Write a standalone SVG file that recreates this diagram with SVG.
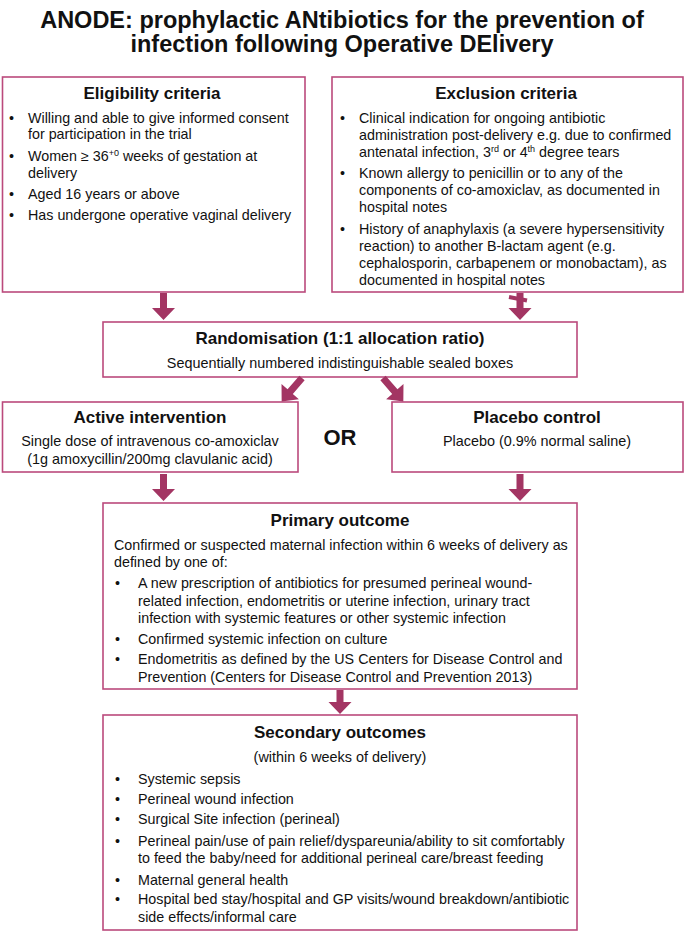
<svg xmlns="http://www.w3.org/2000/svg" width="685" height="932" viewBox="0 0 685 932">
<style>
.box{fill:#ffffff;stroke:#bb4a7c;stroke-width:1.6}
.arrow{fill:#a33563;stroke:none}
.bar{stroke:#a33563;stroke-width:4;fill:none}
text{font-family:"Liberation Sans",Arial,sans-serif;fill:#111111}
.ttl{font-size:23.5px;font-weight:bold;text-anchor:middle}
.hd{font-size:17px;font-weight:bold;text-anchor:middle}
.t{font-size:14.3px}
.c{font-size:14.4px;text-anchor:middle}
.or{font-size:22px;font-weight:bold;text-anchor:middle}
</style>
<rect width="685" height="932" fill="#ffffff"/>
<g id="title">
<text class="ttl" x="342" y="28">ANODE: prophylactic ANtibiotics for the prevention of</text>
<text class="ttl" x="342" y="52">infection following Operative DElivery</text>
</g>
<g id="eligibility">
<rect class="box" x="2.5" y="77" width="302.5" height="215"/>
<text class="hd" x="152" y="99">Eligibility criteria</text>
<text class="t" x="9" y="123">•</text>
<text class="t" x="28" y="123">Willing and able to give informed consent</text>
<text class="t" x="28" y="139">for participation in the trial</text>
<text class="t" x="9" y="161">•</text>
<text class="t" x="28" y="161">Women ≥ 36<tspan font-size="9" dy="-5">+0</tspan><tspan dy="5"> weeks of gestation at</tspan></text>
<text class="t" x="28" y="178">delivery</text>
<text class="t" x="9" y="199">•</text>
<text class="t" x="28" y="199">Aged 16 years or above</text>
<text class="t" x="9" y="220">•</text>
<text class="t" x="28" y="220">Has undergone operative vaginal delivery</text>
</g>
<g id="exclusion">
<rect class="box" x="332" y="77" width="351" height="215"/>
<text class="hd" x="506" y="99">Exclusion criteria</text>
<text class="t" x="340" y="123">•</text>
<text class="t" x="359" y="123">Clinical indication for ongoing antibiotic</text>
<text class="t" x="359" y="140">administration post-delivery e.g. due to confirmed</text>
<text class="t" x="359" y="157">antenatal infection, 3<tspan font-size="9" dy="-5">rd</tspan><tspan dy="5"> or 4</tspan><tspan font-size="9" dy="-5">th</tspan><tspan dy="5"> degree tears</tspan></text>
<text class="t" x="340" y="178">•</text>
<text class="t" x="359" y="178">Known allergy to penicillin or to any of the</text>
<text class="t" x="359" y="195">components of co-amoxiclav, as documented in</text>
<text class="t" x="359" y="212">hospital notes</text>
<text class="t" x="340" y="234">•</text>
<text class="t" x="359" y="234">History of anaphylaxis (a severe hypersensitivity</text>
<text class="t" x="359" y="251">reaction) to another B-lactam agent (e.g.</text>
<text class="t" x="359" y="268">cephalosporin, carbapenem or monobactam), as</text>
<text class="t" x="359" y="285">documented in hospital notes</text>
</g>
<g id="randomisation">
<rect class="box" x="103" y="322" width="474" height="55"/>
<text class="hd" x="340" y="344">Randomisation (1:1 allocation ratio)</text>
<text class="c" x="340" y="368">Sequentially numbered indistinguishable sealed boxes</text>
</g>
<g id="active">
<rect class="box" x="2.5" y="402" width="295.5" height="70"/>
<text class="hd" x="150" y="423">Active intervention</text>
<text class="c" x="150" y="446">Single dose of intravenous co-amoxiclav</text>
<text class="c" x="150" y="464">(1g amoxycillin/200mg clavulanic acid)</text>
</g>
<g id="or">
<text class="or" x="340" y="445">OR</text>
</g>
<g id="placebo">
<rect class="box" x="392" y="402" width="291" height="70"/>
<text class="hd" x="537" y="423">Placebo control</text>
<text class="c" x="537" y="446">Placebo (0.9% normal saline)</text>
</g>
<g id="primary">
<rect class="box" x="103" y="503" width="474" height="186"/>
<text class="hd" x="340" y="526">Primary outcome</text>
<text class="t" x="114" y="550">Confirmed or suspected maternal infection within 6 weeks of delivery as</text>
<text class="t" x="114" y="567">defined by one of:</text>
<text class="t" x="115" y="588">•</text>
<text class="t" x="138" y="588">A new prescription of antibiotics for presumed perineal wound-</text>
<text class="t" x="138" y="606">related infection, endometritis or uterine infection, urinary tract</text>
<text class="t" x="138" y="623">infection with systemic features or other systemic infection</text>
<text class="t" x="115" y="644">•</text>
<text class="t" x="138" y="644">Confirmed systemic infection on culture</text>
<text class="t" x="115" y="664">•</text>
<text class="t" x="138" y="664">Endometritis as defined by the US Centers for Disease Control and</text>
<text class="t" x="138" y="682">Prevention (Centers for Disease Control and Prevention 2013)</text>
</g>
<g id="secondary">
<rect class="box" x="103" y="715" width="474" height="215"/>
<text class="hd" x="340" y="738">Secondary outcomes</text>
<text class="c" x="340" y="762">(within 6 weeks of delivery)</text>
<text class="t" x="115" y="784">•</text>
<text class="t" x="138" y="784">Systemic sepsis</text>
<text class="t" x="115" y="804">•</text>
<text class="t" x="138" y="804">Perineal wound infection</text>
<text class="t" x="115" y="824">•</text>
<text class="t" x="138" y="824">Surgical Site infection (perineal)</text>
<text class="t" x="115" y="846">•</text>
<text class="t" x="138" y="846">Perineal pain/use of pain relief/dyspareunia/ability to sit comfortably</text>
<text class="t" x="138" y="863">to feed the baby/need for additional perineal care/breast feeding</text>
<text class="t" x="115" y="885">•</text>
<text class="t" x="138" y="885">Maternal general health</text>
<text class="t" x="115" y="904">•</text>
<text class="t" x="138" y="904">Hospital bed stay/hospital and GP visits/wound breakdown/antibiotic</text>
<text class="t" x="138" y="922">side effects/informal care</text>
</g>
<g id="connectors">
<polygon class="arrow" points="160,293 167,293 167,308 175,308 163.5,320 152,308 160,308"/>
<polygon class="arrow" points="516.5,293 523.5,293 523.5,308 531.5,308 520,320 508.5,308 516.5,308"/>
<line class="bar" x1="509" y1="297" x2="527" y2="300.5"/>
<polygon class="arrow" transform="translate(302,378) rotate(41)" points="-3.5,0 3.5,0 3.5,18 11.5,18 0,31 -11.5,18 -3.5,18"/>
<polygon class="arrow" transform="translate(383,378) rotate(-41)" points="-3.5,0 3.5,0 3.5,18 11.5,18 0,31 -11.5,18 -3.5,18"/>
<polygon class="arrow" points="160,474 167,474 167,489 175,489 163.5,501 152,489 160,489"/>
<polygon class="arrow" points="516.5,474 523.5,474 523.5,489 531.5,489 520,501 508.5,489 516.5,489"/>
<polygon class="arrow" points="336.5,690 343.5,690 343.5,702 351.5,702 340,714 328.5,702 336.5,702"/>
</g>
</svg>
